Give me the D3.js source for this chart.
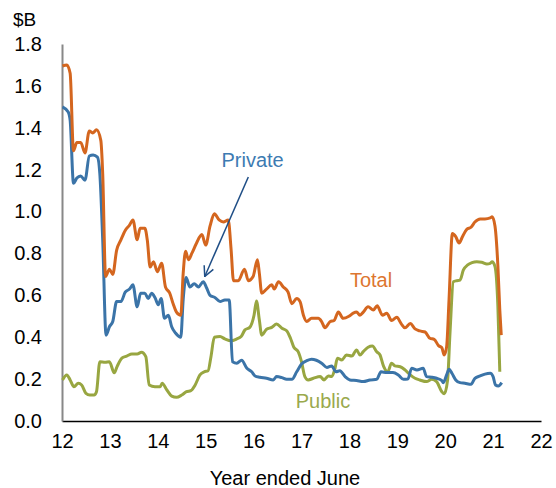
<!DOCTYPE html>
<html>
<head>
<meta charset="utf-8">
<script src="https://cdn.jsdelivr.net/npm/d3@7"></script>
<style>
  body { margin: 0; background: #fff; }
  text { font-family: "Liberation Sans", Arial, sans-serif; }
</style>
</head>
<body>
<div id="plot"></div>
<script>
// values ($B, year ended June)
var totalYears = [12.01, 12.10, 12.17, 12.24, 12.31, 12.39, 12.48, 12.57, 12.64, 12.72, 12.81, 12.85, 12.91, 12.99, 13.06, 13.14, 13.23, 13.32, 13.41, 13.48, 13.57, 13.63, 13.73, 13.78, 13.84, 13.91, 13.99, 14.08, 14.16, 14.25, 14.32, 14.39, 14.48, 14.53, 14.58, 14.64, 14.71, 14.81, 14.92, 15.00, 15.09, 15.18, 15.28, 15.37, 15.47, 15.53, 15.58, 15.68, 15.81, 15.89, 15.99, 16.08, 16.12, 16.17, 16.27, 16.38, 16.43, 16.52, 16.62, 16.72, 16.80, 16.90, 16.97, 17.04, 17.11, 17.21, 17.35, 17.42, 17.49, 17.60, 17.68, 17.77, 17.87, 17.99, 18.08, 18.15, 18.22, 18.29, 18.39, 18.50, 18.58, 18.69, 18.78, 18.88, 18.99, 19.08, 19.16, 19.27, 19.37, 19.47, 19.58, 19.68, 19.77, 19.86, 19.93, 19.98, 20.03, 20.08, 20.15, 20.22, 20.29, 20.36, 20.45, 20.54, 20.62, 20.73, 20.83, 20.94, 20.98, 21.04, 21.10, 21.14, 21.17]
var totalValues = [1.695, 1.70, 1.66, 1.29, 1.33, 1.33, 1.28, 1.385, 1.375, 1.39, 1.34, 1.18, 0.69, 0.725, 0.70, 0.815, 0.865, 0.91, 0.935, 0.96, 0.865, 0.92, 0.92, 0.865, 0.735, 0.76, 0.713, 0.753, 0.64, 0.61, 0.56, 0.52, 0.505, 0.705, 0.81, 0.77, 0.80, 0.85, 0.89, 0.84, 0.93, 0.99, 0.96, 0.95, 0.96, 0.82, 0.67, 0.67, 0.725, 0.67, 0.69, 0.77, 0.705, 0.61, 0.63, 0.65, 0.63, 0.665, 0.64, 0.615, 0.56, 0.585, 0.57, 0.505, 0.475, 0.49, 0.49, 0.475, 0.445, 0.475, 0.48, 0.52, 0.49, 0.50, 0.515, 0.52, 0.505, 0.52, 0.545, 0.53, 0.55, 0.505, 0.515, 0.48, 0.495, 0.465, 0.445, 0.465, 0.44, 0.43, 0.425, 0.395, 0.39, 0.36, 0.35, 0.315, 0.355, 0.58, 0.895, 0.88, 0.85, 0.88, 0.915, 0.925, 0.95, 0.965, 0.965, 0.97, 0.975, 0.93, 0.74, 0.53, 0.41]

var privateYears = [12.01, 12.13, 12.17, 12.24, 12.31, 12.39, 12.48, 12.57, 12.65, 12.74, 12.79, 12.85, 12.92, 12.99, 13.06, 13.14, 13.23, 13.32, 13.41, 13.48, 13.57, 13.64, 13.73, 13.80, 13.87, 13.94, 14.01, 14.07, 14.14, 14.22, 14.29, 14.37, 14.48, 14.53, 14.59, 14.67, 14.76, 14.85, 14.95, 15.02, 15.09, 15.19, 15.30, 15.40, 15.49, 15.56, 15.65, 15.75, 15.86, 15.96, 16.03, 16.13, 16.27, 16.41, 16.48, 16.59, 16.69, 16.80, 16.90, 17.00, 17.11, 17.21, 17.31, 17.42, 17.53, 17.63, 17.72, 17.80, 17.91, 18.01, 18.15, 18.29, 18.43, 18.57, 18.66, 18.78, 18.91, 19.02, 19.13, 19.22, 19.30, 19.41, 19.54, 19.61, 19.72, 19.82, 19.93, 19.96, 20.03, 20.08, 20.14, 20.22, 20.31, 20.41, 20.54, 20.62, 20.73, 20.83, 20.94, 21.00, 21.05, 21.11, 21.18]
var privateValues = [1.50, 1.475, 1.435, 1.135, 1.16, 1.17, 1.15, 1.265, 1.27, 1.26, 1.18, 0.865, 0.41, 0.45, 0.475, 0.57, 0.57, 0.615, 0.63, 0.65, 0.545, 0.61, 0.61, 0.585, 0.61, 0.59, 0.555, 0.585, 0.49, 0.505, 0.45, 0.42, 0.40, 0.58, 0.685, 0.64, 0.655, 0.64, 0.665, 0.635, 0.60, 0.59, 0.57, 0.578, 0.578, 0.283, 0.276, 0.29, 0.252, 0.235, 0.215, 0.209, 0.204, 0.196, 0.212, 0.207, 0.199, 0.199, 0.235, 0.272, 0.288, 0.295, 0.29, 0.276, 0.256, 0.263, 0.235, 0.24, 0.212, 0.196, 0.193, 0.188, 0.196, 0.199, 0.235, 0.231, 0.231, 0.22, 0.199, 0.20, 0.252, 0.244, 0.252, 0.212, 0.209, 0.204, 0.193, 0.183, 0.22, 0.247, 0.228, 0.196, 0.183, 0.18, 0.175, 0.204, 0.215, 0.224, 0.228, 0.212, 0.172, 0.167, 0.183]

var publicYears = [12.01, 12.10, 12.17, 12.25, 12.34, 12.41, 12.50, 12.58, 12.67, 12.72, 12.79, 12.90, 12.99, 13.09, 13.15, 13.25, 13.35, 13.46, 13.57, 13.66, 13.75, 13.82, 13.94, 14.05, 14.09, 14.19, 14.29, 14.39, 14.50, 14.60, 14.69, 14.78, 14.88, 14.97, 15.05, 15.11, 15.18, 15.30, 15.40, 15.53, 15.65, 15.74, 15.82, 15.92, 16.01, 16.06, 16.12, 16.17, 16.27, 16.38, 16.48, 16.59, 16.69, 16.77, 16.84, 16.93, 17.00, 17.07, 17.14, 17.25, 17.39, 17.47, 17.56, 17.63, 17.70, 17.75, 17.84, 17.94, 18.05, 18.15, 18.22, 18.29, 18.39, 18.48, 18.57, 18.64, 18.71, 18.80, 18.88, 18.95, 19.06, 19.16, 19.27, 19.37, 19.47, 19.61, 19.72, 19.82, 19.93, 19.98, 20.05, 20.10, 20.17, 20.24, 20.31, 20.38, 20.47, 20.56, 20.66, 20.76, 20.87, 20.94, 20.98, 21.04, 21.10, 21.14]
var publicValues = [0.196, 0.22, 0.196, 0.164, 0.18, 0.172, 0.132, 0.124, 0.124, 0.14, 0.283, 0.28, 0.283, 0.23, 0.26, 0.30, 0.31, 0.32, 0.32, 0.328, 0.307, 0.172, 0.164, 0.164, 0.18, 0.148, 0.119, 0.113, 0.124, 0.14, 0.145, 0.172, 0.22, 0.235, 0.24, 0.307, 0.40, 0.403, 0.392, 0.383, 0.392, 0.403, 0.435, 0.447, 0.506, 0.573, 0.482, 0.41, 0.438, 0.447, 0.463, 0.443, 0.431, 0.395, 0.352, 0.331, 0.283, 0.212, 0.196, 0.204, 0.212, 0.196, 0.215, 0.212, 0.252, 0.30, 0.291, 0.315, 0.31, 0.339, 0.315, 0.331, 0.352, 0.358, 0.331, 0.315, 0.263, 0.235, 0.276, 0.263, 0.259, 0.244, 0.22, 0.204, 0.196, 0.188, 0.199, 0.188, 0.14, 0.13, 0.196, 0.419, 0.665, 0.67, 0.673, 0.721, 0.745, 0.756, 0.76, 0.758, 0.75, 0.753, 0.76, 0.737, 0.546, 0.235]

var xTicks = [12, 13, 14, 15, 16, 17, 18, 19, 20, 21, 22]
var yTicks = [0, 0.2, 0.4, 0.6, 0.8, 1.0, 1.2, 1.4, 1.6, 1.8]

// svg size
var svgWidth = 556
var svgHeight = 488

var margin = { top: 44, right: 15, bottom: 67, left: 62 }
var width = svgWidth - margin.left - margin.right
var height = svgHeight - margin.top - margin.bottom

var svg = d3.select("#plot")
  .append("svg")
  .attr("width", svgWidth)
  .attr("height", svgHeight)

var chartGroup = svg.append("g")
  .attr("transform", `translate(${margin.left}, ${margin.top})`)

// scales
var xScale = d3.scaleLinear().domain([12, 22]).range([0, width])
var yScale = d3.scaleLinear().domain([0, 1.8]).range([height, 0])

// axes (no tick marks, just labels)
var bottomAxis = d3.axisBottom(xScale)
  .tickValues(xTicks)
  .tickSize(0)
  .tickPadding(13)
  .tickFormat(d3.format("d"))
var leftAxis = d3.axisLeft(yScale)
  .tickValues(yTicks)
  .tickSize(0)
  .tickPadding(20)
  .tickFormat(d3.format(".1f"))

var xAxisG = chartGroup.append("g")
  .attr("transform", `translate(0, ${height})`)
  .call(bottomAxis)
xAxisG.select(".domain").attr("stroke", "#000").attr("stroke-width", 1.3)
xAxisG.selectAll("text").style("font-size", "20px").attr("fill", "#000")

var yAxisG = chartGroup.append("g")
  .call(leftAxis)
yAxisG.select(".domain").attr("stroke", "#888").attr("stroke-width", 2)
yAxisG.selectAll("text").style("font-size", "20px").attr("fill", "#000")

// units + axis title
svg.append("text")
  .attr("x", 13)
  .attr("y", 26)
  .style("font-size", "19px")
  .text("$B")

svg.append("text")
  .attr("x", 285)
  .attr("y", 485)
  .style("font-size", "20px")
  .style("text-anchor", "middle")
  .text("Year ended June")

// lines
function drawLine(years, values, colour) {
  var pts = years.map((y, i) => [y, values[i]])
  var line = d3.line()
    .x(d => xScale(d[0]))
    .y(d => yScale(d[1]))
    .curve(d3.curveMonotoneX)
  chartGroup.append("path")
    .datum(pts)
    .attr("d", line)
    .attr("fill", "none")
    .attr("stroke", colour)
    .attr("stroke-width", 3)
    .attr("stroke-linejoin", "round")
}

drawLine(publicYears, publicValues, "#98a641")
drawLine(privateYears, privateValues, "#3b74a8")
drawLine(totalYears, totalValues, "#d4661f")

// labels
chartGroup.append("text")
  .attr("x", xScale(15.33))
  .attr("y", yScale(1.213))
  .style("font-size", "20px")
  .attr("fill", "#3d7bb2")
  .text("Private")

chartGroup.append("text")
  .attr("x", xScale(18.01))
  .attr("y", yScale(0.638))
  .style("font-size", "20px")
  .attr("fill", "#dd7630")
  .text("Total")

chartGroup.append("text")
  .attr("x", xScale(16.88))
  .attr("y", yScale(0.06))
  .style("font-size", "20px")
  .attr("fill", "#9aa94d")
  .text("Public")

// arrow from Private label to its line
svg.append("defs").append("marker")
  .attr("id", "arrowhead")
  .attr("viewBox", "0 0 12 12")
  .attr("refX", 11)
  .attr("refY", 6)
  .attr("markerWidth", 12)
  .attr("markerHeight", 12)
  .attr("markerUnits", "userSpaceOnUse")
  .attr("orient", "auto")
  .append("path")
  .attr("d", "M1,1 L11,6 L1,11")
  .attr("fill", "none")
  .attr("stroke", "#1f4e86")
  .attr("stroke-width", 1.5)

chartGroup.append("line")
  .attr("x1", xScale(15.89))
  .attr("y1", yScale(1.165))
  .attr("x2", xScale(14.98))
  .attr("y2", yScale(0.69))
  .attr("stroke", "#1f4e86")
  .attr("stroke-width", 1.5)
  .attr("marker-end", "url(#arrowhead)")
</script>
</body>
</html>
